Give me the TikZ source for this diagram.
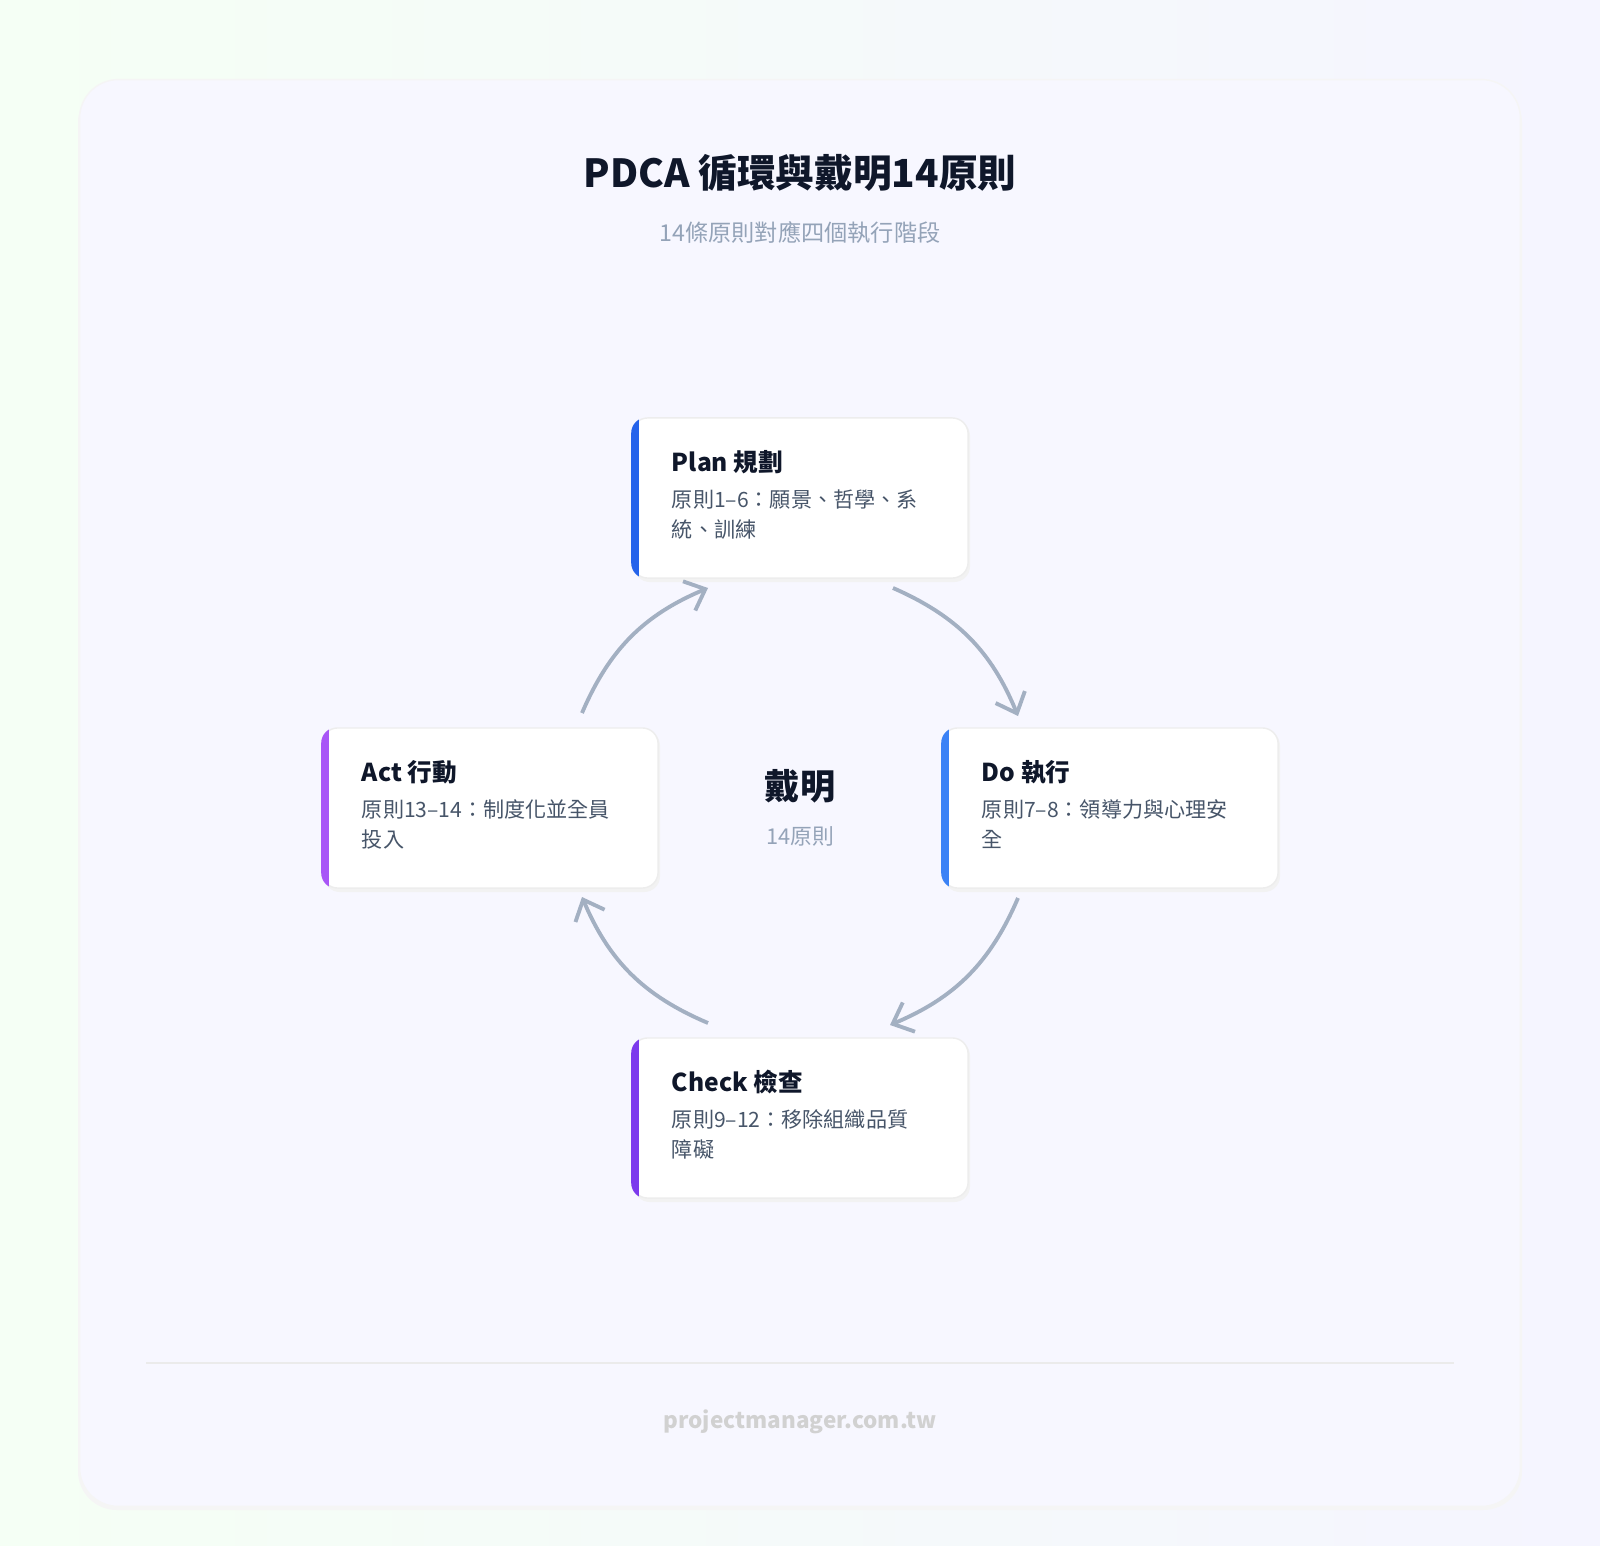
\documentclass[tikz,border=0pt]{standalone}
\usepackage{fontspec}
\setmainfont{Noto Sans CJK TC}
\usetikzlibrary{arrows.meta}
\definecolor{ink}{HTML}{0F172A}
\definecolor{muted}{HTML}{94A3B8}
\definecolor{body}{HTML}{475569}
\definecolor{arrowc}{HTML}{A3B0C2}
\definecolor{planc}{HTML}{2563EB}
\definecolor{doc}{HTML}{3B82F6}
\definecolor{checkc}{HTML}{7C3AED}
\definecolor{actc}{HTML}{A855F7}
\tikzset{
  card/.style={draw=black!7,fill=white,rounded corners=4.5pt,minimum width=3.36cm,minimum height=1.6cm},
  ctitle/.style={anchor=west,font=\fontsize{7}{8}\selectfont\bfseries,text=ink,inner sep=0pt},
  cbody/.style={anchor=north west,font=\fontsize{6}{8.5}\selectfont,text=body,align=left,inner sep=0pt},
  cycle/.style={-{Straight Barb[length=5pt,width=9pt]},arrowc,line width=1.1pt,bend left=22}
}
\begin{document}
\begin{tikzpicture}[x=0.01cm,y=-0.01cm]
\useasboundingbox (0,0) rectangle (1600,1546);
\shade[left color=green!4!white,right color=blue!4!white] (0,0) rectangle (1600,1546);
\fill[black!4,rounded corners=11pt] (78,84) rectangle (1522,1510);
\node[draw=black!4,fill=white!97!blue,rounded corners=11pt,minimum width=14.4cm,minimum height=14.26cm] (panel) at (800,793) {};
\node[font=\fontsize{11}{13}\selectfont\bfseries,text=ink] (title) at (800,173) {PDCA 循環與戴明14原則};
\node[font=\fontsize{6.6}{8}\selectfont,text=muted] (subtitle) at (800,233) {14條原則對應四個執行階段};
% cards
\foreach \name/\cx/\cy/\col/\head/\txt in {
  plan/800/498/planc/Plan 規劃/{原則1–6：願景、哲學、系\\統、訓練},
  do/1110/808/doc/Do 執行/{原則7–8：領導力與心理安\\全},
  check/800/1118/checkc/Check 檢查/{原則9–12：移除組織品質\\障礙},
  act/490/808/actc/Act 行動/{原則13–14：制度化並全員\\投入}}{
  \fill[black!5,rounded corners=4.5pt] (\cx-166,\cy-78) rectangle (\cx+170,\cy+84);
  \node[card] (\name) at (\cx,\cy) {};
  \begin{scope}
    \clip[rounded corners=4.5pt] (\name.south west) rectangle (\name.north east);
    \fill[\col] (\name.south west) rectangle ([xshift=0.08cm]\name.north west);
  \end{scope}
  \node[ctitle] (\name-head) at ([xshift=0.4cm,yshift=-0.45cm]\name.north west) {\head};
  \node[cbody] (\name-body) at ([xshift=0.4cm,yshift=-0.72cm]\name.north west) {\txt};
}
\node[font=\fontsize{10}{12}\selectfont\bfseries,text=ink] (deming) at (800,786) {戴明};
\node[font=\fontsize{6.2}{8}\selectfont,text=muted] (count) at (800,836) {14原則};
% cycle arrows
\coordinate (p1) at (893,588); \coordinate (p2) at (1018,716);
\coordinate (d1) at (1018,898); \coordinate (d2) at (890,1025);
\coordinate (c1) at (708,1023); \coordinate (c2) at (582,897);
\coordinate (a1) at (582,713); \coordinate (a2) at (708,588);
\draw[cycle] (p1) to (p2);
\draw[cycle] (d1) to (d2);
\draw[cycle] (c1) to (c2);
\draw[cycle] (a1) to (a2);
\coordinate (r1) at (146,1363); \coordinate (r2) at (1454,1363);
\draw[black!8,line width=0.8pt] (r1) -- (r2);
\node[font=\fontsize{6.4}{8}\selectfont\bfseries,text=black!18] (footer) at (800,1422) {projectmanager.com.tw};
\end{tikzpicture}
\end{document}
